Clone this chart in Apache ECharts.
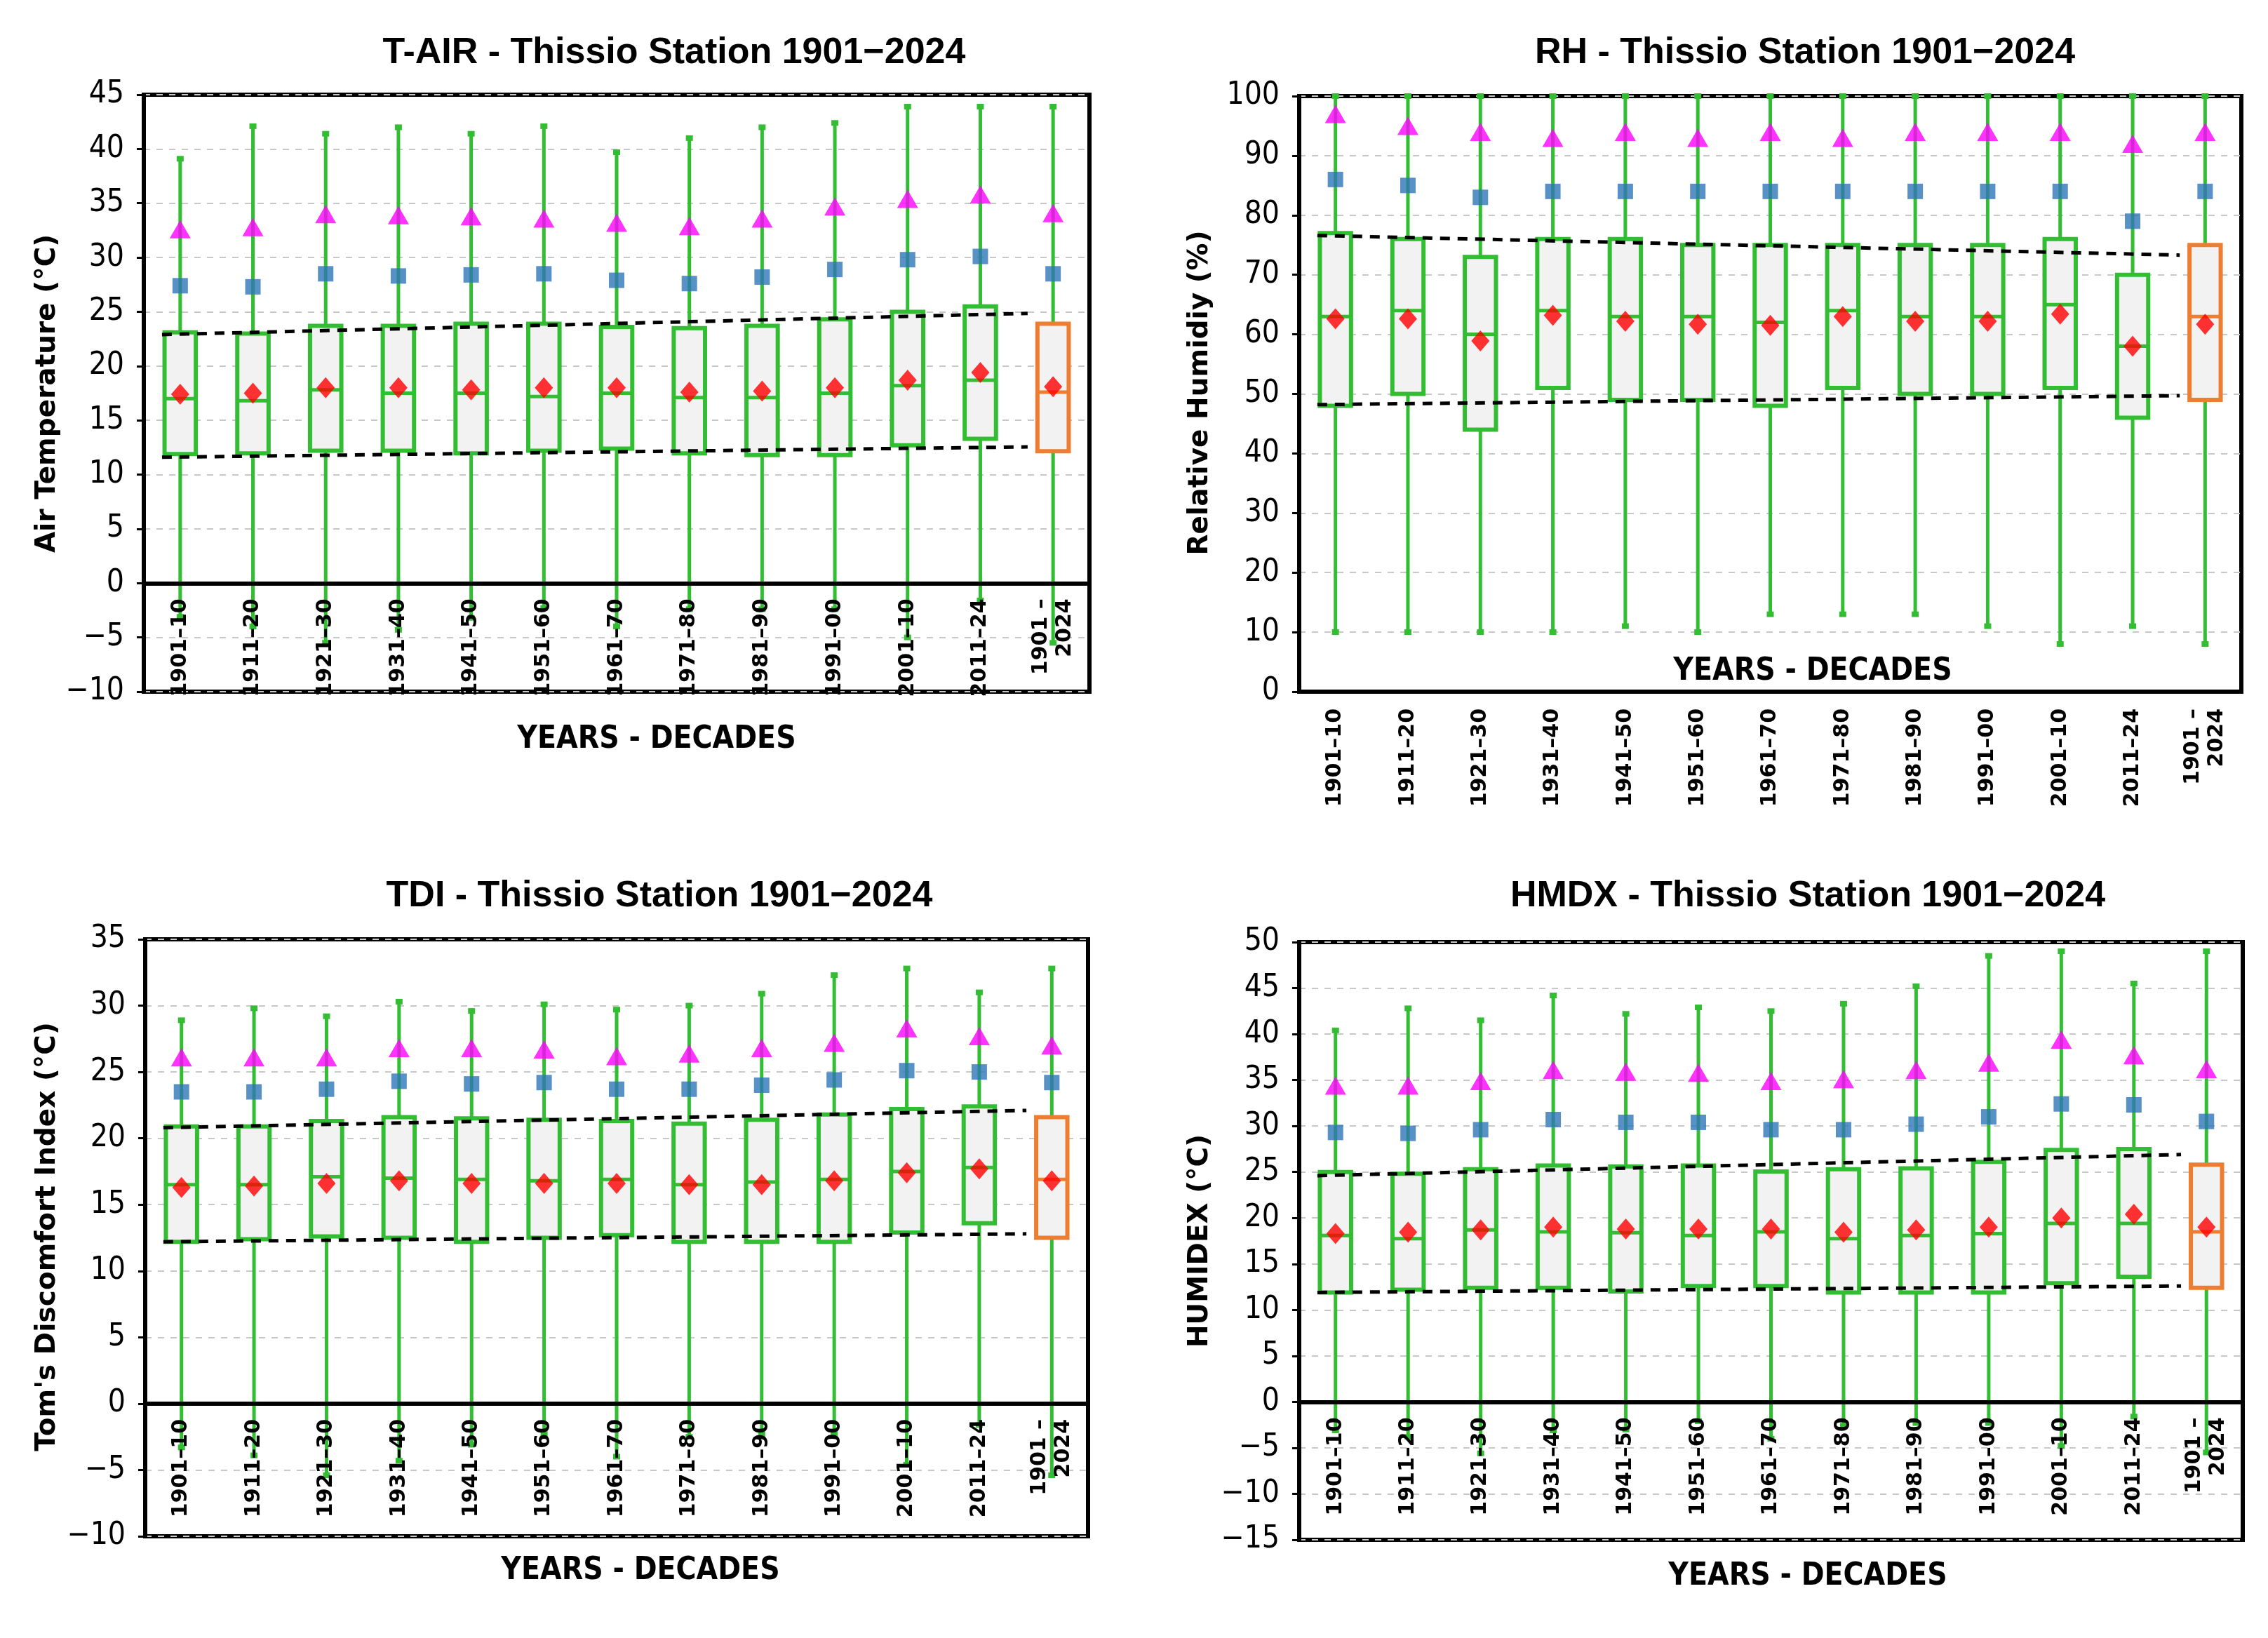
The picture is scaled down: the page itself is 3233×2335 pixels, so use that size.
<!DOCTYPE html>
<html><head><meta charset="utf-8">
<script src="https://cdn.jsdelivr.net/npm/echarts@6/dist/echarts.min.js"></script>
<style>html,body{margin:0;padding:0;background:#fff}#c{width:3233px;height:2335px}</style>
</head><body><div id="c"></div>
<script>
const categories = ['1901\u201310','1911\u201320','1921\u201330','1931\u201340','1941\u201350','1951\u201360','1961\u201370','1971\u201380','1981\u201390','1991\u201300','2001\u201310','2011\u201324','1901 \u2013\n2024'];

// T-AIR
const tairMin  = [-3.1,-4.0,-5.5,-4.3,-3.2,-2.3,-4.0,-2.4,-2.4,-2.4,-5.0,-1.6,-5.5];
const tairQ1   = [11.9,11.95,12.2,12.2,11.95,12.2,12.4,11.95,11.8,11.8,12.7,13.3,12.15];
const tairMed  = [17.0,16.8,17.8,17.5,17.5,17.2,17.5,17.1,17.1,17.5,18.2,18.7,17.6];
const tairQ3   = [23.1,23.0,23.7,23.7,23.9,23.9,23.6,23.5,23.7,24.3,25.0,25.5,23.9];
const tairMax  = [39.1,42.1,41.4,42.0,41.4,42.1,39.7,41.0,42.0,42.4,43.9,43.9,43.9];
const tairMean = [17.4,17.5,18.0,18.0,17.8,18.0,18.0,17.6,17.7,18.0,18.7,19.4,18.1];
const tairP90  = [27.4,27.3,28.5,28.3,28.4,28.5,27.9,27.6,28.2,28.9,29.8,30.1,28.5];
const tairP99  = [32.6,32.8,34.0,33.9,33.8,33.6,33.2,32.9,33.6,34.7,35.4,35.8,34.1];
const tairTrendUpper = [22.9,24.85];
const tairTrendLower = [11.6,12.55];

// RH
const rhMin  = [10,10,10,10,11,10,13,13,13,11,8,11,8];
const rhQ1   = [48,50,44,51,49,49,48,51,50,50,51,46,49];
const rhMed  = [63,64,60,64,63,63,62,64,63,63,65,58,63];
const rhQ3   = [77,76,73,76,76,75,75,75,75,75,76,70,75];
const rhMax  = [100,100,100,100,100,100,100,100,100,100,100,100,100];
const rhMean = [62.6,62.6,58.9,63.2,62.2,61.7,61.5,63.0,62.2,62.2,63.4,58.0,61.7];
const rhP90  = [86,85,83,84,84,84,84,84,84,84,84,79,84];
const rhP99  = [97,95,94,93,94,93,94,93,94,94,94,92,94];
const rhTrendUpper = [76.6,73.3];
const rhTrendLower = [48.2,49.7];

// TDI
const tdiMin  = [-3.3,-3.9,-5.4,-4.3,-3.1,-2.3,-4.0,-2.5,-2.3,-2.3,-4.6,-1.6,-5.4];
const tdiQ1   = [12.2,12.4,12.6,12.5,12.2,12.5,12.7,12.2,12.2,12.2,12.9,13.6,12.5];
const tdiMed  = [16.5,16.5,17.1,17.0,16.9,16.8,16.9,16.5,16.7,16.9,17.5,17.8,16.9];
const tdiQ3   = [20.9,20.9,21.3,21.6,21.5,21.4,21.3,21.1,21.4,21.8,22.2,22.4,21.6];
const tdiMax  = [28.9,29.8,29.2,30.3,29.6,30.1,29.7,30.0,30.9,32.3,32.8,31.0,32.8];
const tdiMean = [16.3,16.4,16.6,16.8,16.6,16.6,16.6,16.5,16.5,16.8,17.4,17.7,16.8];
const tdiP90  = [23.5,23.5,23.7,24.3,24.1,24.2,23.7,23.7,24.0,24.4,25.1,25.0,24.2];
const tdiP99  = [26.1,26.1,26.1,26.8,26.8,26.7,26.2,26.4,26.8,27.2,28.3,27.7,27.0];
const tdiTrendUpper = [20.8,22.1];
const tdiTrendLower = [12.2,12.8];

// HMDX
const hmdxMin  = [-3.1,-3.8,-5.6,-3.1,-3.0,-2.1,-4.0,-2.6,-2.3,-2.3,-4.8,-1.6,-5.5];
const hmdxQ1   = [11.9,12.2,12.4,12.4,12.0,12.6,12.6,11.9,11.9,11.9,12.9,13.6,12.4];
const hmdxMed  = [18.1,17.75,18.7,18.5,18.4,18.1,18.5,17.75,18.1,18.3,19.4,19.4,18.5];
const hmdxQ3   = [25.0,24.8,25.3,25.7,25.6,25.7,25.05,25.3,25.4,26.1,27.4,27.5,25.8];
const hmdxMax  = [40.4,42.8,41.5,44.2,42.2,42.9,42.5,43.3,45.2,48.5,49.0,45.5,49.0];
const hmdxMean = [18.3,18.45,18.7,19.0,18.8,18.8,18.8,18.45,18.7,19.0,20.0,20.4,19.0];
const hmdxP90  = [29.3,29.2,29.6,30.7,30.4,30.4,29.6,29.6,30.2,31.0,32.4,32.3,30.5];
const hmdxP99  = [34.4,34.4,34.9,36.1,35.9,35.8,34.9,35.1,36.1,36.9,39.4,37.7,36.2];
const hmdxTrendUpper = [24.6,26.9];
const hmdxTrendLower = [11.9,12.6];

const trendX = [-0.25, 11.65];

const panels = [
  {title:'T-AIR - Thissio Station 1901\u22122024', yName:'Air Temperature (\u00B0C)', min:-10, max:45, interval:5,
   mn:tairMin,q1:tairQ1,md:tairMed,q3:tairQ3,mx:tairMax,mean:tairMean,p90:tairP90,p99:tairP99,tu:tairTrendUpper,tl:tairTrendLower},
  {title:'RH - Thissio Station 1901\u22122024', yName:'Relative Humidiy (%)', min:0, max:100, interval:10,
   mn:rhMin,q1:rhQ1,md:rhMed,q3:rhQ3,mx:rhMax,mean:rhMean,p90:rhP90,p99:rhP99,tu:rhTrendUpper,tl:rhTrendLower},
  {title:'TDI - Thissio Station 1901\u22122024', yName:"Tom's Discomfort Index (\u00B0C)", min:-10, max:35, interval:5,
   mn:tdiMin,q1:tdiQ1,md:tdiMed,q3:tdiQ3,mx:tdiMax,mean:tdiMean,p90:tdiP90,p99:tdiP99,tu:tdiTrendUpper,tl:tdiTrendLower},
  {title:'HMDX - Thissio Station 1901\u22122024', yName:'HUMIDEX (\u00B0C)', min:-15, max:50, interval:5,
   mn:hmdxMin,q1:hmdxQ1,md:hmdxMed,q3:hmdxQ3,mx:hmdxMax,mean:hmdxMean,p90:hmdxP90,p99:hmdxP99,tu:hmdxTrendUpper,tl:hmdxTrendLower}
];

const layout = [
  {grid:{left:205, top:135, width:1348, height:851}, title:[961,76], yName:[68,561], xName:[936,1055], labelMargin:22},
  {grid:{left:1852, top:137, width:1343, height:849}, title:[2573,76], yName:[1711,560], xName:[2584,958], labelMargin:24},
  {grid:{left:207, top:1339, width:1344, height:851}, title:[940,1278], yName:[68,1763], xName:[913,2240], labelMargin:22},
  {grid:{left:1852, top:1343, width:1345, height:852}, title:[2577,1278], yName:[1711,1769], xName:[2577,2248], labelMargin:22}
];

const GREEN = '#33bd33', ORANGE = '#ed7d31', FILL = '#f2f2f2';
const numFont = "'Liberation Sans Narrow','DejaVu Sans Condensed',sans-serif";

function boxRender(params, api) {
  const i = api.value(0);
  const pMin = api.coord([i, api.value(1)]);
  const pQ1 = api.coord([i, api.value(2)]);
  const pMd = api.coord([i, api.value(3)]);
  const pQ3 = api.coord([i, api.value(4)]);
  const pMax = api.coord([i, api.value(5)]);
  const cx = pMin[0];
  const bw = api.size([1, 0])[0] * 0.43;
  const col = (i === 12) ? ORANGE : GREEN;
  return {type:'group', children:[
    {type:'line', shape:{x1:cx, y1:pMax[1], x2:cx, y2:pMin[1]}, style:{stroke:GREEN, lineWidth:5}},
    {type:'rect', shape:{x:cx-5, y:pMax[1]-4, width:10, height:8}, style:{fill:GREEN}},
    {type:'rect', shape:{x:cx-5, y:pMin[1]-4, width:10, height:8}, style:{fill:GREEN}},
    {type:'rect', shape:{x:cx-bw/2, y:pQ3[1], width:bw, height:pQ1[1]-pQ3[1]}, style:{fill:FILL, stroke:col, lineWidth:6}},
    {type:'line', shape:{x1:cx-bw/2, y1:pMd[1], x2:cx+bw/2, y2:pMd[1]}, style:{stroke:col, lineWidth:5}}
  ]};
}

const grids = [], xAxes = [], yAxes = [], series = [], graphics = [];
panels.forEach((p, k) => {
  const L = layout[k];
  // the category axis sits at the value 0 of the y scale (Excel "axis crosses at 0")
  const zeroOffset = -L.grid.height * (0 - p.min) / (p.max - p.min);
  grids.push(Object.assign({show:true, borderColor:'#000', borderWidth:6, backgroundColor:'transparent', containLabel:false}, L.grid));
  xAxes.push({type:'category', gridIndex:k, data:categories, boundaryGap:true, z:6, position:'bottom', offset:zeroOffset,
    axisLine:{show:true, onZero:false, lineStyle:{color:'#000', width:6}},
    axisTick:{show:false},
    axisLabel:{interval:0, rotate:90, margin:L.labelMargin, color:'#000', fontSize:30, fontWeight:'bold', fontFamily:'DejaVu Sans', lineHeight:34},
    splitLine:{show:false}});
  yAxes.push({type:'value', gridIndex:k, min:p.min, max:p.max, interval:p.interval,
    axisLine:{show:true, onZero:false, lineStyle:{color:'#000', width:6}},
    axisTick:{show:true, length:10, lineStyle:{color:'#000', width:3}},
    axisLabel:{color:'#000', fontSize:44, fontFamily:numFont, margin:28,
      formatter: v => String(v).replace('-', '\u2212')},
    splitLine:{show:true, lineStyle:{color:'#c8c8c8', width:2, type:[9,9]}}});
  graphics.push({type:'text', x:L.title[0], y:L.title[1], style:{text:p.title, fill:'#000',
    font:"bold 52px 'Liberation Sans',sans-serif", textAlign:'center', textVerticalAlign:'middle'}, z:10});
  graphics.push({type:'text', x:L.yName[0], y:L.yName[1], rotation:Math.PI/2, style:{text:p.yName, fill:'#000',
    font:"bold 39px 'DejaVu Sans',sans-serif", textAlign:'center', textVerticalAlign:'middle'}, z:10});
  graphics.push({type:'text', x:L.xName[0], y:L.xName[1], style:{text:'YEARS - DECADES', fill:'#000',
    font:"bold 44px " + numFont, textAlign:'center', textVerticalAlign:'middle'}, z:10});
});
// hidden value x-axes for trend lines
panels.forEach((p, k) => {
  xAxes.push({type:'value', gridIndex:k, min:-0.5, max:12.5, show:false, splitLine:{show:false}});
});

panels.forEach((p, k) => {
  const data = categories.map((c, i) => [i, p.mn[i], p.q1[i], p.md[i], p.q3[i], p.mx[i]]);
  series.push({type:'custom', xAxisIndex:k, yAxisIndex:k, renderItem:boxRender, data:data, z:2,
    encode:{x:0, y:[1,2,3,4,5]}, clip:false});
  series.push({type:'scatter', xAxisIndex:k, yAxisIndex:k, data:p.p99, symbol:'triangle', symbolSize:[30,26],
    itemStyle:{color:'#ff00ff'}, z:3});
  series.push({type:'scatter', xAxisIndex:k, yAxisIndex:k, data:p.p90, symbol:'rect', symbolSize:[22,22],
    itemStyle:{color:'#2e75b6'}, z:3});
  series.push({type:'scatter', xAxisIndex:k, yAxisIndex:k, data:p.mean, symbol:'diamond', symbolSize:[26,30],
    itemStyle:{color:'#ff0000'}, z:3});
  [p.tu, p.tl].forEach(t => {
    series.push({type:'line', xAxisIndex:4+k, yAxisIndex:k, data:[[trendX[0], t[0]],[trendX[1], t[1]]],
      showSymbol:false, symbol:'none', lineStyle:{color:'#000', width:5, type:[14,11]}, z:4, silent:true});
  });
});

const chart = echarts.init(document.getElementById('c'), null, {renderer:'canvas'});
chart.setOption({animation:false, backgroundColor:'#fff', grid:grids, xAxis:xAxes, yAxis:yAxes, series:series, graphic:graphics});
</script></body></html>
